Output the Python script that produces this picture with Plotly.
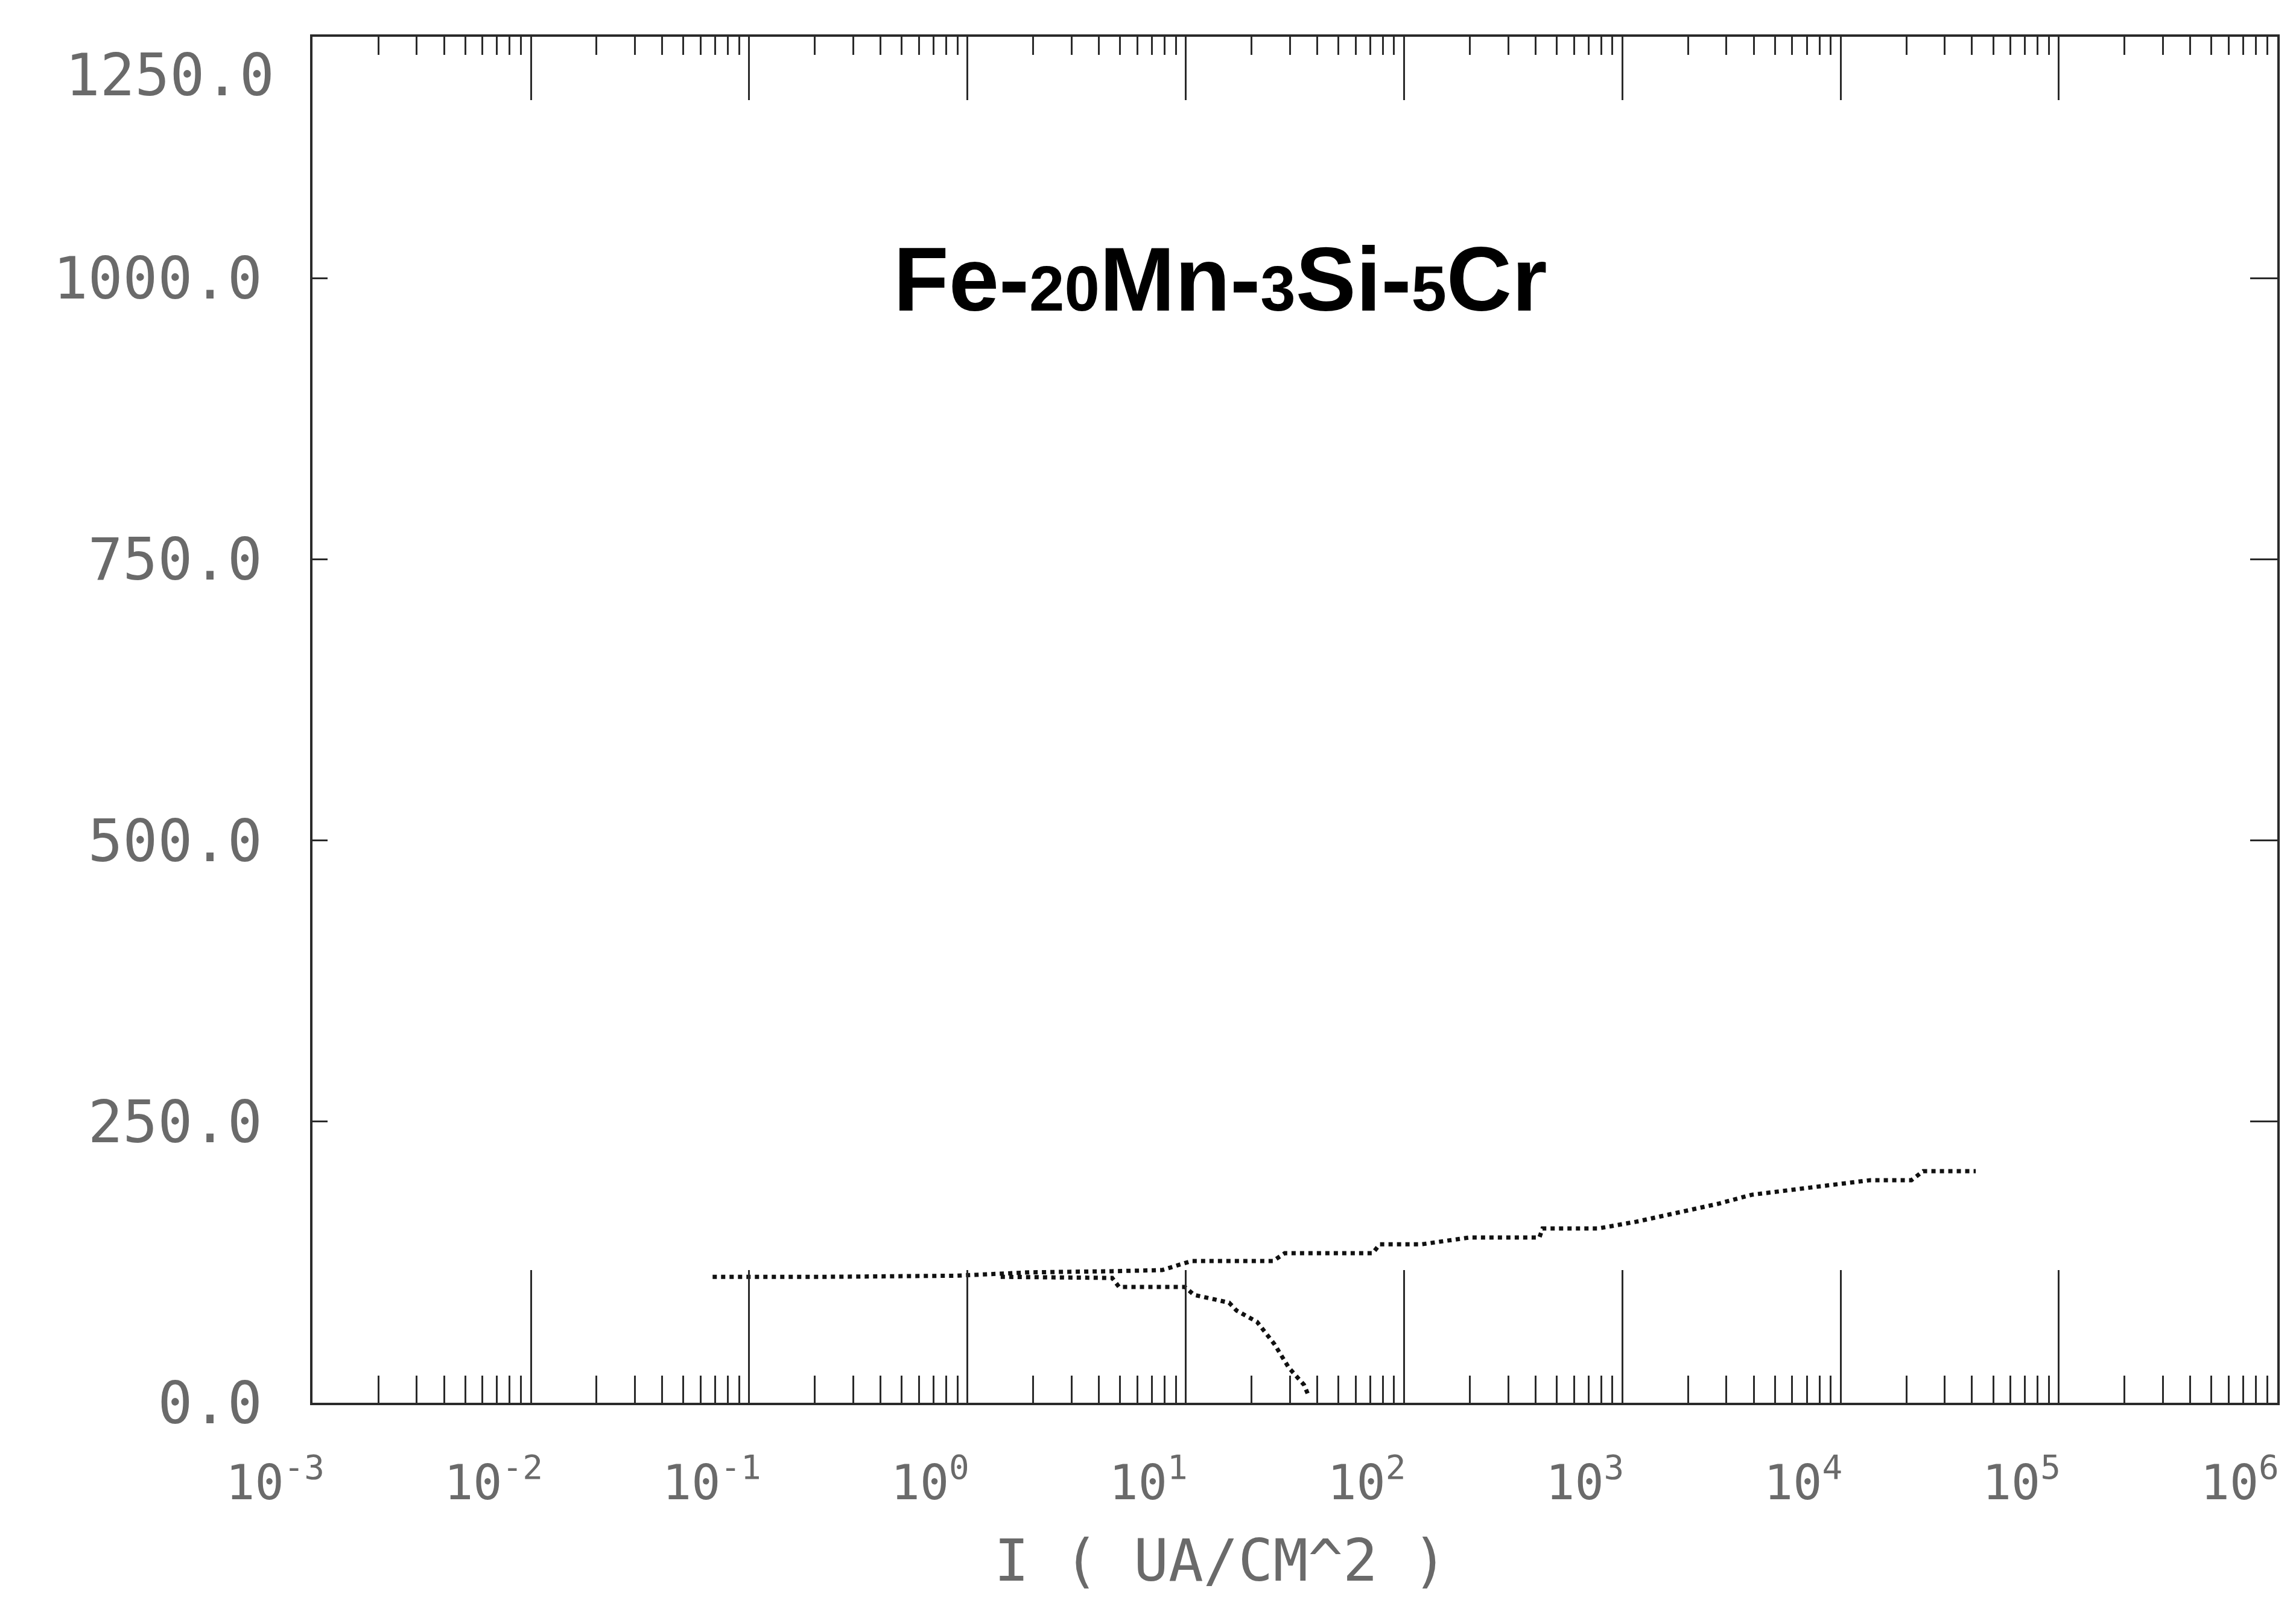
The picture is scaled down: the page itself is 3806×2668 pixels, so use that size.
import plotly.graph_objects as go

# ---- data (current density in uA/cm2, potential in mV) ----
anodic_current = [0.068, 0.22, 0.89, 1.93, 4.6, 7.8, 10.6, 25.1, 28.4, 71.8, 77.4, 121,
                  199, 417, 431, 774, 1156, 1811, 2750, 3920, 7260, 13700, 21100, 23900, 41600]
anodic_potential = [112, 112, 113, 116, 117, 118, 126, 126, 133, 133, 141, 141,
                    147, 147, 155, 155, 161, 169, 177, 185, 191, 198, 198, 206, 206]

cathodic_current = [1.42, 4.6, 4.95, 9.9, 10.9, 15.8, 17.1, 21.2, 25.5, 29.7, 34.8, 36.4]
cathodic_potential = [112, 111, 103, 103, 96, 89, 82, 72, 52, 31, 16, 7]

x_tick_exponents = [-3, -2, -1, 0, 1, 2, 3, 4, 5, 6]
y_tick_values = [0, 250, 500, 750, 1000]
y_tick_labels = ["0.0", "250.0", "500.0", "750.0", "1000.0"]
y_top_label = "1250.0"
y_range = [0, 1215]

title_text = ("<b>Fe-<span style='font-size:105px'>20</span>Mn-"
              "<span style='font-size:105px'>3</span>Si-"
              "<span style='font-size:105px'>5</span>Cr</b>")
x_title = "I ( UA/CM^2 )"

W, H = 3806, 2668
L, R, T, B = 510, 39, 53, 350

x_tickvals = [10 ** e for e in x_tick_exponents]
x_ticktext = ["10<sup>%d</sup>" % e for e in x_tick_exponents]
x_range = [x_tick_exponents[0] - 0.0005, x_tick_exponents[-1] + 0.0005]

xtick_font = dict(family="DejaVu Sans Mono", size=80, color="#6a6a6a")
ytick_font = dict(family="DejaVu Sans Mono", size=96, color="#6a6a6a")
line_col = "#2a2a2a"

fig = go.Figure()
fig.add_trace(go.Scatter(x=anodic_current, y=anodic_potential, mode="lines",
                         line=dict(color="#111111", width=7, dash="dot"),
                         showlegend=False, hoverinfo="skip"))
fig.add_trace(go.Scatter(x=cathodic_current, y=cathodic_potential, mode="lines",
                         line=dict(color="#111111", width=7, dash="dot"),
                         showlegend=False, hoverinfo="skip"))
# invisible trace to carry the mirrored top/right axes
fig.add_trace(go.Scatter(x=[x_tickvals[0]], y=[y_range[0]], xaxis="x2", yaxis="y2",
                         mode="markers", marker=dict(opacity=0), showlegend=False,
                         hoverinfo="skip"))

fig.update_layout(
    width=W, height=H,
    paper_bgcolor="white", plot_bgcolor="white",
    margin=dict(l=L, r=R, t=T, b=B),
    showlegend=False,
    xaxis=dict(type="log", range=x_range,
               tickvals=x_tickvals, ticktext=x_ticktext, tickfont=xtick_font,
               ticks="inside", ticklen=220, tickwidth=3, tickcolor=line_col,
               minor=dict(ticks="inside", ticklen=45, tickwidth=3, tickcolor=line_col, dtick="D1"),
               showline=True, linecolor=line_col, linewidth=4,
               showgrid=False, zeroline=False, ticklabelstandoff=60,
               ticklabelshift=-62, ticklabeloverflow="allow"),
    xaxis2=dict(type="log", range=x_range,
                overlaying="x", side="top", tickvals=x_tickvals, showticklabels=False,
                ticks="inside", ticklen=105, tickwidth=3, tickcolor=line_col,
                minor=dict(ticks="inside", ticklen=30, tickwidth=3, tickcolor=line_col, dtick="D1"),
                showline=True, linecolor=line_col, linewidth=4,
                showgrid=False, zeroline=False),
    yaxis=dict(range=y_range, tickvals=y_tick_values, ticktext=y_tick_labels,
               tickfont=ytick_font, ticks="inside", ticklen=25, tickwidth=3,
               tickcolor=line_col, showline=True, linecolor=line_col, linewidth=4,
               showgrid=False, zeroline=False, ticklabelstandoff=60),
    yaxis2=dict(range=y_range, overlaying="y", side="right", tickvals=y_tick_values,
                showticklabels=False, ticks="inside", ticklen=45, tickwidth=3,
                tickcolor=line_col, showline=True, linecolor=line_col, linewidth=4,
                showgrid=False, zeroline=False),
    annotations=[
        dict(text=title_text, x=2015, y=455, xref="paper", yref="paper",
             showarrow=False, font=dict(family="Liberation Sans", size=150, color="black"),
             xanchor="center", yanchor="middle"),
        dict(text=x_title, x=2015, y=2580, xref="paper", yref="paper",
             showarrow=False, font=dict(family="DejaVu Sans Mono", size=96, color="#6a6a6a"),
             xanchor="center", yanchor="middle"),
        dict(text=y_top_label, x=449, y=117, xref="paper", yref="paper",
             showarrow=False, font=ytick_font, xanchor="right", yanchor="middle"),
    ],
)

# convert pixel anchor positions of annotations to paper fractions
for a in fig.layout.annotations:
    px, py = a.x, a.y
    a.x = (px - L) / (W - L - R)
    a.y = ((H - B) - py) / (H - T - B)

fig.write_html("out.html")
